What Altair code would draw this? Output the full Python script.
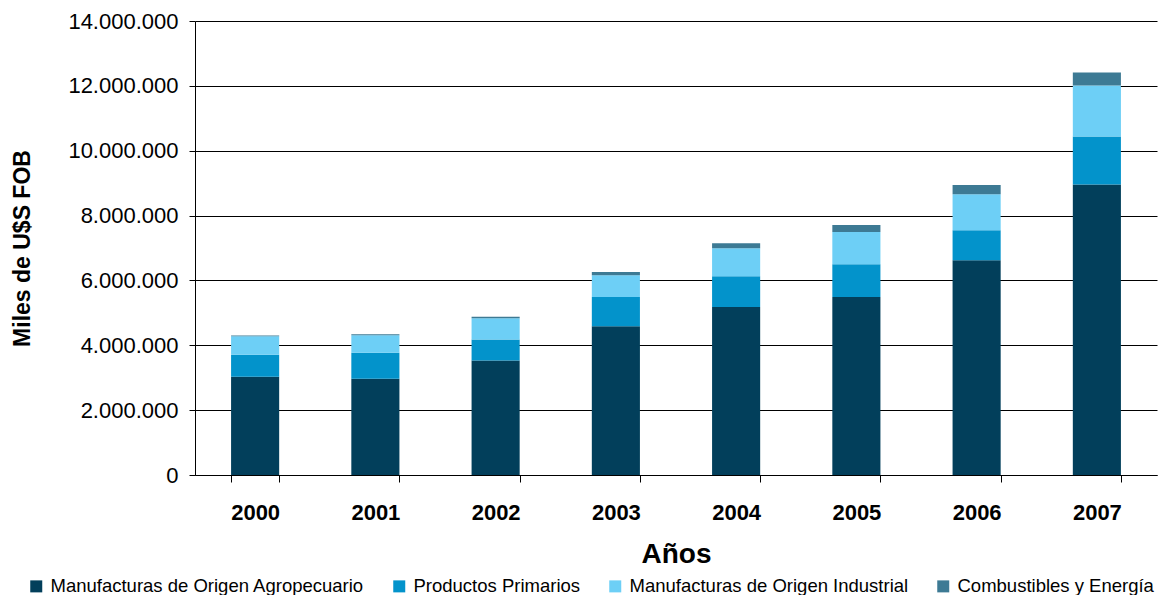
import altair as alt
import pandas as pd

years = ["2000", "2001", "2002", "2003", "2004", "2005", "2006", "2007"]
series = ["Manufacturas de Origen Agropecuario", "Productos Primarios",
          "Manufacturas de Origen Industrial", "Combustibles y Energía"]
colors = ["#023F5B", "#0393CB", "#6DCFF6", "#3D7A94"]

moa = [3030000, 2970000, 3530000, 4590000, 5180000, 5490000, 6620000, 8960000]
pp = [680000, 800000, 650000, 900000, 950000, 1010000, 930000, 1480000]
moi = [570000, 540000, 650000, 670000, 860000, 990000, 1110000, 1570000]
cye = [20000, 30000, 50000, 100000, 160000, 220000, 280000, 400000]

rows = []
for i, y in enumerate(years):
    for k, (name, vals) in enumerate(zip(series, [moa, pp, moi, cye])):
        rows.append({"Año": y, "Serie": name, "Valor": vals[i], "orden": k})
df = pd.DataFrame(rows)

FONT = "Liberation Sans"

chart = alt.Chart(df).mark_bar().encode(
    x=alt.X("Año:N", sort=years,
            scale=alt.Scale(paddingInner=0.6, paddingOuter=0.3),
            axis=alt.Axis(title="Años", labelAngle=0, labelFontWeight="bold",
                          labelFontSize=22, labelColor="#000", labelPadding=37,
                          labelBaseline="alphabetic",
                          tickBand="extent", tickSize=7, tickColor="#000",
                          domainColor="#000", titleFontSize=28, titleFontWeight="bold",
                          titleColor="#000", titleY=79, titleBaseline="middle")),
    y=alt.Y("Valor:Q", stack="zero",
            scale=alt.Scale(domain=[0, 14000000], nice=False),
            axis=alt.Axis(title="Miles de U$S FOB", values=list(range(0, 14000001, 2000000)),
                          labelExpr="replace(replace(format(datum.value, ','), ',', '.'), ',', '.')",
                          labelFontSize=22, labelColor="#000", labelPadding=11,
                          tickSize=6, tickColor="#000", domainColor="#000",
                          gridColor="#000", gridWidth=1, grid=True,
                          titleFontSize=23, titleFontWeight="bold", titleColor="#000",
                          titleX=-173, titleY=227, titleAngle=-90,
                          titleAlign="center", titleBaseline="middle")),
    color=alt.Color("Serie:N", sort=series,
                    scale=alt.Scale(domain=series, range=colors),
                    legend=alt.Legend(title=None, orient="none", direction="horizontal",
                                      legendX=-168, legendY=556,
                                      symbolType="square", symbolSize=144,
                                      symbolStrokeWidth=0, labelFontSize=18.5,
                                      labelColor="#000", columnPadding=25,
                                      labelOffset=5, labelLimit=0)),
    order=alt.Order("orden:Q", sort="ascending"),
).properties(
    width=962, height=454,
    padding={"left": 187, "top": 13, "right": 3, "bottom": 120},
    autosize=alt.AutoSizeParams(type="none"),
).configure(
    font=FONT,
).configure_view(stroke=None)

chart.save("out.html", embed_options={"renderer": "svg", "actions": False})
